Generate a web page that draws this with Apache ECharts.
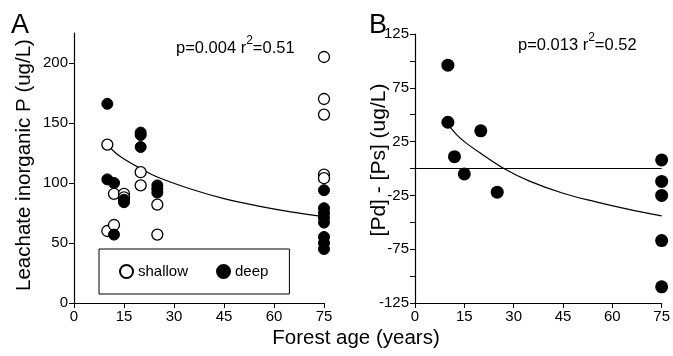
<!DOCTYPE html>
<html>
<head>
<meta charset="utf-8">
<script src="https://cdn.jsdelivr.net/npm/echarts@6/dist/echarts.min.js"></script>
<style>
  html, body { margin: 0; padding: 0; background: #fff; }
  #main { width: 673px; height: 356px; }
</style>
</head>
<body>
<div id="main"></div>
<script>
// panel A: leachate inorganic P
const shallowAge = [10, 10, 12, 12, 15, 15, 20, 20, 25, 25, 75, 75, 75, 75, 75];
const shallowP = [132, 60, 91, 65, 91, 88, 109, 98, 82, 57, 205, 170, 157, 107, 104];
const deepAge = [10, 10, 12, 12, 15, 15, 20, 20, 20, 25, 25, 25, 75, 75, 75, 75, 75, 75, 75, 75];
const deepP = [166, 103, 100, 57, 86, 84, 142, 140, 130, 98, 95, 92, 94, 79, 75, 71, 67, 55, 50, 45];
const fitAgeA = [10, 12.5, 15, 20, 25, 35, 45, 55, 65, 75];
const fitA = [132, 125, 120, 112, 105, 95, 87, 81, 76, 72];

// panel B: deep minus shallow
const diffAge = [10, 10, 12, 15, 20, 25, 75, 75, 75, 75, 75];
const diffP = [96, 43, 11, -5, 35, -22, 8, -12, -25, -67, -110];
const fitAgeB = [10, 12.5, 15, 20, 27, 35, 45, 55, 65, 75];
const fitB = [41, 32, 25, 14, 0, -12, -23, -31, -38, -44];

const xTicks = [0, 15, 30, 45, 60, 75];
const yTicksA = [0, 50, 100, 150, 200];

const FONT = "Liberation Sans";
const zip = (xs, ys) => xs.map((x, i) => [x, ys[i]]);

let myChart = echarts.init(document.getElementById("main"));

const xAxisBase = {
  type: "value",
  min: 0,
  max: 75,
  interval: 15,
  axisLine: { show: true, onZero: false, lineStyle: { color: "#000", width: 1.2 } },
  axisTick: { show: true, length: 5, lineStyle: { color: "#000" } },
  axisLabel: { color: "#000", fontSize: 15, fontFamily: FONT, margin: 6 },
  splitLine: { show: false },
};

const statRich = {
  a: { fontSize: 16.5, fontFamily: FONT, fill: "#000", lineHeight: 22, verticalAlign: "bottom" },
  s: { fontSize: 12, fontFamily: FONT, fill: "#000", lineHeight: 22, verticalAlign: "top" },
};

let option = {
  animation: false,
  textStyle: { fontFamily: FONT },
  grid: [
    { left: 74, top: 33, width: 250, height: 270 },
    { left: 415, top: 34, width: 248, height: 269 },
  ],
  xAxis: [
    Object.assign({ gridIndex: 0 }, xAxisBase),
    Object.assign({ gridIndex: 1 }, xAxisBase),
  ],
  yAxis: [
    {
      gridIndex: 0,
      type: "value",
      min: 0,
      max: 225,
      interval: 25,
      axisLine: { show: true, lineStyle: { color: "#000", width: 1.2 } },
      axisTick: { show: true, length: 5, customValues: yTicksA, lineStyle: { color: "#000" } },
      axisLabel: { color: "#000", fontSize: 15, fontFamily: FONT, margin: 6, customValues: yTicksA },
      splitLine: { show: false },
    },
    {
      gridIndex: 1,
      type: "value",
      min: -125,
      max: 125,
      interval: 25,
      axisLine: { show: true, onZero: false, lineStyle: { color: "#000", width: 1.2 } },
      axisTick: { show: true, length: 5, lineStyle: { color: "#000" } },
      axisLabel: {
        color: "#000",
        fontSize: 15,
        fontFamily: FONT,
        margin: 6,
        formatter: (v) => (Math.abs(v) % 50 === 25 ? String(v) : ""),
      },
      splitLine: { show: false },
    },
  ],
  legend: {
    left: 99,
    top: 249,
    orient: "horizontal",
    data: ["shallow", "deep"],
    itemWidth: 13,
    itemHeight: 13,
    itemGap: 28,
    padding: [15, 21, 15, 20],
    borderColor: "#000",
    borderWidth: 1,
    textStyle: { color: "#000", fontSize: 15, fontFamily: FONT },
  },
  graphic: [
    { type: "text", left: 11, top: 12, style: { text: "A", fontSize: 27, fontFamily: FONT, fill: "#000" } },
    { type: "text", left: 369, top: 12, style: { text: "B", fontSize: 27, fontFamily: FONT, fill: "#000" } },
    { type: "text", left: 176, top: 35, style: { text: "{a|p=0.004 r}{s|2}{a|=0.51}", rich: statRich } },
    { type: "text", left: 518, top: 32, style: { text: "{a|p=0.013 r}{s|2}{a|=0.52}", rich: statRich } },
    {
      type: "text",
      x: 24,
      y: 165,
      rotation: Math.PI / 2,
      style: {
        text: "Leachate inorganic P (ug/L)",
        fontSize: 20.5,
        fontFamily: FONT,
        fill: "#000",
        align: "center",
        verticalAlign: "middle",
      },
    },
    {
      type: "text",
      x: 379,
      y: 160,
      rotation: Math.PI / 2,
      style: {
        text: "[Pd] - [Ps] (ug/L)",
        fontSize: 21,
        fontFamily: FONT,
        fill: "#000",
        align: "center",
        verticalAlign: "middle",
      },
    },
    {
      type: "text",
      x: 356,
      y: 338,
      style: {
        text: "Forest age (years)",
        fontSize: 20.5,
        fontFamily: FONT,
        fill: "#000",
        align: "center",
        verticalAlign: "middle",
      },
    },
  ],
  series: [
    {
      name: "fitA",
      type: "line",
      xAxisIndex: 0,
      yAxisIndex: 0,
      data: zip(fitAgeA, fitA),
      smooth: 0.4,
      showSymbol: false,
      lineStyle: { color: "#000", width: 1.2 },
      z: 1,
    },
    {
      name: "shallow",
      type: "scatter",
      xAxisIndex: 0,
      yAxisIndex: 0,
      data: zip(shallowAge, shallowP),
      symbol: "circle",
      symbolSize: 11,
      itemStyle: { color: "#fff", borderColor: "#000", borderWidth: 1.3, opacity: 1 },
      z: 3,
    },
    {
      name: "deep",
      type: "scatter",
      xAxisIndex: 0,
      yAxisIndex: 0,
      data: zip(deepAge, deepP),
      symbol: "circle",
      symbolSize: 11,
      itemStyle: { color: "#000", borderColor: "#000", borderWidth: 1, opacity: 1 },
      z: 4,
    },
    {
      name: "zero",
      type: "line",
      xAxisIndex: 1,
      yAxisIndex: 1,
      data: [[0, 0], [75, 0]],
      showSymbol: false,
      lineStyle: { color: "#000", width: 1.2 },
      z: 1,
    },
    {
      name: "fitB",
      type: "line",
      xAxisIndex: 1,
      yAxisIndex: 1,
      data: zip(fitAgeB, fitB),
      smooth: 0.4,
      showSymbol: false,
      lineStyle: { color: "#000", width: 1.2 },
      z: 1,
    },
    {
      name: "diff",
      type: "scatter",
      xAxisIndex: 1,
      yAxisIndex: 1,
      data: zip(diffAge, diffP),
      symbol: "circle",
      symbolSize: 13,
      itemStyle: { color: "#000", opacity: 1 },
      z: 4,
    },
  ],
};

myChart.setOption(option);
</script>
</body>
</html>
